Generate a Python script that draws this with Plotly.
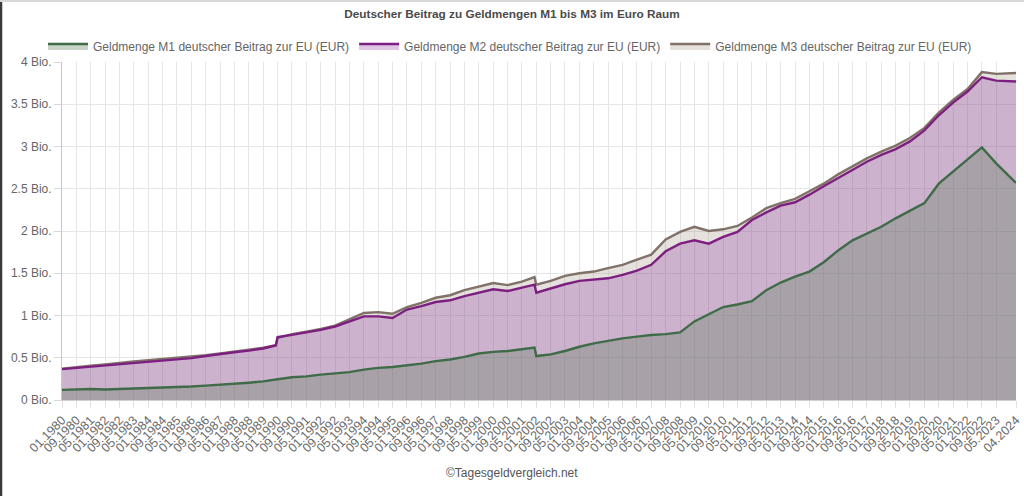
import plotly.graph_objects as go
import pandas as pd

# ---- data (values in Bio. EUR) ----
months = [
    "01.1980", "09.1980", "05.1981", "01.1982", "09.1982", "05.1983", "01.1984", "09.1984",
    "05.1985", "01.1986", "09.1986", "05.1987", "01.1988", "09.1988", "05.1989", "12.1989",
    "01.1990", "09.1990", "05.1991", "01.1992", "09.1992", "05.1993", "01.1994", "09.1994",
    "05.1995", "01.1996", "09.1996", "05.1997", "01.1998", "09.1998", "05.1999", "01.2000",
    "09.2000", "05.2001", "12.2001", "01.2002", "09.2002", "05.2003", "01.2004", "09.2004",
    "05.2005", "01.2006", "09.2006", "05.2007", "01.2008", "09.2008", "05.2009", "01.2010",
    "09.2010", "05.2011", "01.2012", "09.2012", "05.2013", "01.2014", "09.2014", "05.2015",
    "01.2016", "09.2016", "05.2017", "01.2018", "09.2018", "05.2019", "01.2020", "09.2020",
    "05.2021", "01.2022", "09.2022", "05.2023", "04.2024",
]

m1 = [
    0.12, 0.125, 0.13, 0.125, 0.13, 0.135, 0.14, 0.145,
    0.155, 0.16, 0.17, 0.18, 0.19, 0.205, 0.22, 0.235,
    0.245, 0.27, 0.28, 0.30, 0.315, 0.33, 0.36, 0.38,
    0.39, 0.41, 0.43, 0.46, 0.48, 0.51, 0.55, 0.57,
    0.58, 0.60, 0.62, 0.52, 0.54, 0.58, 0.63, 0.67,
    0.70, 0.73, 0.75, 0.77, 0.78, 0.80, 0.93, 1.02,
    1.10, 1.13, 1.17, 1.30, 1.39, 1.46, 1.52, 1.63,
    1.77, 1.89, 1.97, 2.05, 2.15, 2.24, 2.33, 2.56,
    2.70, 2.84, 2.99, 2.80, 2.57,
]

m2 = [
    0.365, 0.38, 0.395, 0.41, 0.425, 0.44, 0.455, 0.47,
    0.48, 0.495, 0.52, 0.545, 0.565, 0.585, 0.61, 0.645,
    0.745, 0.77, 0.80, 0.83, 0.87, 0.93, 0.99, 0.99,
    0.97, 1.07, 1.11, 1.16, 1.18, 1.23, 1.27, 1.31,
    1.29, 1.33, 1.365, 1.27, 1.32, 1.37, 1.41, 1.425,
    1.44, 1.48, 1.53, 1.60, 1.76, 1.85, 1.89, 1.85,
    1.93, 1.99, 2.13, 2.22, 2.30, 2.34, 2.43, 2.53,
    2.63, 2.73, 2.82, 2.90, 2.97, 3.06, 3.19, 3.37,
    3.52, 3.65, 3.82, 3.78, 3.77,
]

m3 = [
    0.37, 0.39, 0.405, 0.42, 0.44, 0.455, 0.47, 0.485,
    0.495, 0.51, 0.53, 0.55, 0.57, 0.595, 0.62, 0.65,
    0.735, 0.78, 0.81, 0.84, 0.88, 0.95, 1.03, 1.04,
    1.02, 1.10, 1.15, 1.21, 1.24, 1.30, 1.34, 1.385,
    1.36, 1.40, 1.455, 1.365, 1.41, 1.47, 1.50, 1.52,
    1.56, 1.60, 1.66, 1.72, 1.90, 1.99, 2.05, 2.00,
    2.02, 2.06, 2.16, 2.27, 2.33, 2.38, 2.47, 2.56,
    2.67, 2.77, 2.86, 2.94, 3.01, 3.10, 3.22, 3.40,
    3.55, 3.68, 3.88, 3.86, 3.87,
]

tick_labels = [
    "01.1980", "09.1980", "05.1981", "01.1982", "09.1982", "05.1983", "01.1984", "09.1984",
    "05.1985", "01.1986", "09.1986", "05.1987", "01.1988", "09.1988", "05.1989", "01.1990",
    "09.1990", "05.1991", "01.1992", "09.1992", "05.1993", "01.1994", "09.1994", "05.1995",
    "01.1996", "09.1996", "05.1997", "01.1998", "09.1998", "05.1999", "01.2000", "09.2000",
    "05.2001", "01.2002", "09.2002", "05.2003", "01.2004", "09.2004", "05.2005", "01.2006",
    "09.2006", "05.2007", "01.2008", "09.2008", "05.2009", "01.2010", "09.2010", "05.2011",
    "01.2012", "09.2012", "05.2013", "01.2014", "09.2014", "05.2015", "01.2016", "09.2016",
    "05.2017", "01.2018", "09.2018", "05.2019", "01.2020", "09.2020", "05.2021", "01.2022",
    "09.2022", "05.2023", "04.2024",
]

y_ticks = [0, 0.5, 1, 1.5, 2, 2.5, 3, 3.5, 4]
y_tick_text = ["0 Bio.", "0.5 Bio.", "1 Bio.", "1.5 Bio.", "2 Bio.", "2.5 Bio.", "3 Bio.", "3.5 Bio.", "4 Bio."]

names = {
    "m1": "Geldmenge M1 deutscher Beitrag zur EU (EUR)",
    "m2": "Geldmenge M2 deutscher Beitrag zur EU (EUR)",
    "m3": "Geldmenge M3 deutscher Beitrag zur EU (EUR)",
}

x = pd.to_datetime(months, format="%m.%Y")
tx = pd.to_datetime(tick_labels, format="%m.%Y")

FONT = "Liberation Sans, Arial, Helvetica, sans-serif"

W, H = 1024, 496
ML, MR, MT, MB = 62, 8, 62, 96
plot_w = W - ML - MR
plot_h = H - MT - MB


def px_x(p):
    return (p - ML) / plot_w


def px_y(p):
    return (H - MB - p) / plot_h


fig = go.Figure()
# drawn bottom to top: M3, M2, M1 (M1 on top)
fig.add_trace(go.Scatter(
    x=x, y=m3, name=names["m3"], mode="lines",
    line=dict(color="#807169", width=2.4),
    fill="tozeroy", fillcolor="rgba(150,135,120,0.25)", legendrank=3,
))
fig.add_trace(go.Scatter(
    x=x, y=m2, name=names["m2"], mode="lines",
    line=dict(color="#7d1f80", width=2.4),
    fill="tozeroy", fillcolor="rgba(146,68,164,0.30)", legendrank=2,
))
fig.add_trace(go.Scatter(
    x=x, y=m1, name=names["m1"], mode="lines",
    line=dict(color="#3f6b48", width=2.4),
    fill="tozeroy", fillcolor="rgba(101,132,101,0.35)", legendrank=1,
))

fig.update_layout(
    width=W, height=H,
    margin=dict(l=ML, r=MR, t=MT, b=MB, autoexpand=False),
    paper_bgcolor="white", plot_bgcolor="white",
    font=dict(family=FONT, color="#666666", size=12),
    title=dict(
        text="<b>Deutscher Beitrag zu Geldmengen M1 bis M3 im Euro Raum</b>",
        x=0.5, xref="container", xanchor="center",
        y=1 - 14 / H, yref="container", yanchor="middle",
        font=dict(family=FONT, size=11.8, color="#4a4a4a"),
    ),
    legend=dict(
        orientation="h", x=px_x(510), xref="paper", xanchor="center",
        y=px_y(46), yref="paper", yanchor="middle",
        font=dict(family=FONT, size=12, color="#666666"),
        itemwidth=40, traceorder="normal",
        bgcolor="rgba(0,0,0,0)",
    ),
    showlegend=True,
    hovermode=False,
    shapes=[
        dict(type="line", xref="paper", yref="paper",
             x0=px_x(1), x1=px_x(1), y0=px_y(H), y1=px_y(0),
             line=dict(color="#3a3a3a", width=2.5)),
        dict(type="line", xref="paper", yref="paper",
             x0=px_x(0), x1=px_x(W), y0=px_y(1), y1=px_y(1),
             line=dict(color="#d8d8d8", width=2)),
    ],
)

fig.update_xaxes(
    type="date",
    range=[x[0], x[-1]],
    tickvals=tx, ticktext=tick_labels, tickangle=-45,
    tickfont=dict(family=FONT, size=12.5, color="#6a6a6a"),
    showgrid=True, gridcolor="#e6e6e6", gridwidth=1,
    ticks="outside", ticklen=7, tickcolor="#e0e0e0",
    showline=True, linecolor="#d0d0d0", linewidth=1,
    zeroline=False, automargin=False,
)
fig.update_yaxes(
    range=[0, 4],
    tickvals=y_ticks, ticktext=y_tick_text,
    tickfont=dict(family=FONT, size=12, color="#666666"),
    showgrid=True, gridcolor="#e6e6e6", gridwidth=1,
    ticks="outside", ticklen=7, tickcolor="#d8d8d8",
    showline=True, linecolor="#c8c8c8", linewidth=1,
    zeroline=False, automargin=False,
)

fig.add_annotation(
    text="©Tagesgeldvergleich.net",
    x=px_x(512), xref="paper", xanchor="center",
    y=px_y(473), yref="paper", yanchor="middle",
    showarrow=False,
    font=dict(family=FONT, size=12, color="#555555"),
)

fig.write_html(
    "out.html",
    config={"displayModeBar": False},
    post_script="document.body.style.margin='0';",
)
